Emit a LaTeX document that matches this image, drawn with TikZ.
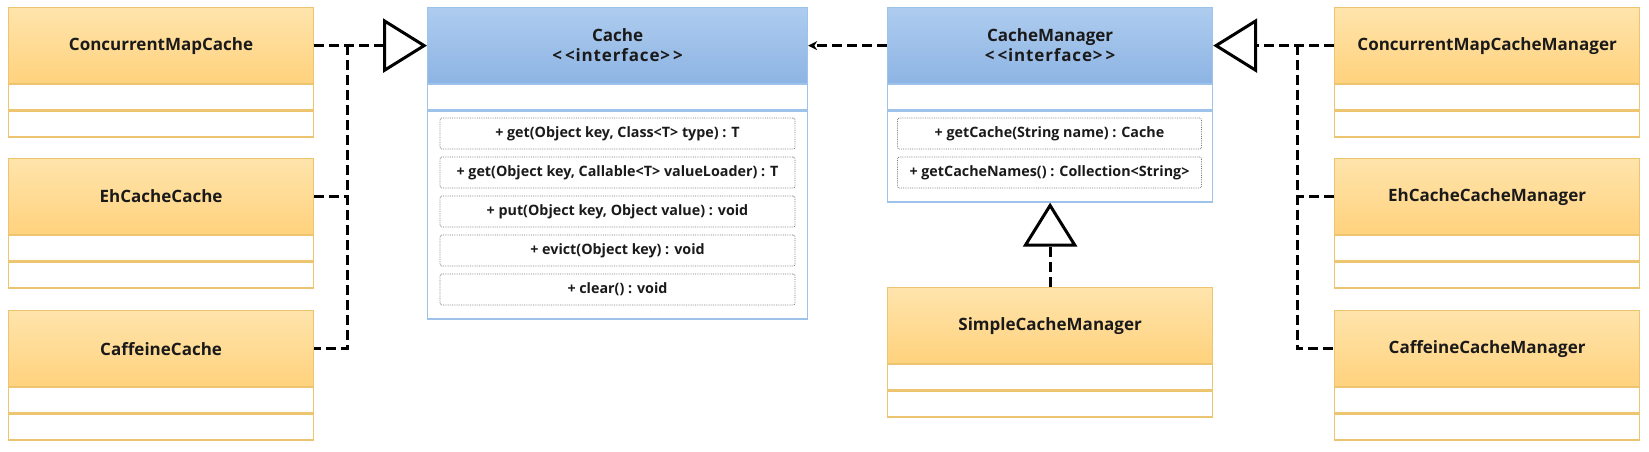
\documentclass[tikz,border=0pt]{standalone}
\usepackage{fontspec}
\setmainfont{Open Sans}
\usetikzlibrary{arrows.meta}
\definecolor{ortop}{HTML}{FFE4AC}
\definecolor{orbot}{HTML}{FFD27D}
\definecolor{orline}{HTML}{EDC46F}
\definecolor{bltop}{HTML}{AECCEF}
\definecolor{blbot}{HTML}{8DB4E3}
\definecolor{blline}{HTML}{9DC3EA}
\definecolor{txt}{HTML}{1A1A1A}
\definecolor{methline}{HTML}{7A7A7A}
\newcommand\oclass[4]{%
  \node[ohead] (#1) at (#2,#3) {#4};
  \node[orow] (#1-a) at (#1.south) {};
  \node[orow, minimum height=26pt] (#1-o) at (#1-a.south) {};}
\newcommand\ifaceline{{\addfontfeatures{LetterSpace=5}<\kern3pt<interface>\kern3pt>}}
\begin{document}
\begin{tikzpicture}[x=1pt,y=-1pt,
  every node/.style={text=txt},
  ohead/.style={draw=orline, line width=1.2pt, top color=ortop, bottom color=orbot, minimum width=305pt, minimum height=76pt, inner sep=0pt, font=\fontsize{17}{20}\selectfont\bfseries, anchor=north west},
  orow/.style={draw=orline, line width=1.2pt, fill=white, minimum width=305pt, minimum height=25pt, inner sep=0pt, anchor=north},
  bhead/.style={draw=blline, line width=1.2pt, top color=bltop, bottom color=blbot, minimum height=76pt, inner sep=0pt, align=center, font=\fontsize{17}{20}\selectfont\bfseries, anchor=north west},
  brow/.style={draw=blline, line width=1.2pt, fill=white, minimum height=25pt, inner sep=0pt, anchor=north},
  meth/.style={draw=methline, densely dotted, line width=0.8pt, rounded corners=2pt, minimum height=31pt, inner sep=0pt, font=\fontsize{14.3}{16}\selectfont\bfseries},
  dep/.style={line width=3pt, dash pattern=on 10pt off 5pt, draw=black},
  realize/.style={dep, -{Triangle[open, length=44pt, width=54pt, line width=3pt]}},
  use/.style={dep, -{Stealth[length=9pt, width=9pt]}}
]
\fill[white] (0,0) rectangle (1649,451);
\useasboundingbox (0,0) rectangle (1649,451);

% left implementations
\oclass{cmc}{8}{7}{ConcurrentMapCache}
\oclass{ehc}{8}{158}{EhCacheCache}
\oclass{caf}{8}{310}{CaffeineCache}

% Cache interface
\node[bhead, minimum width=380pt] (cache) at (427,7) {Cache\\\ifaceline};
\node[brow, minimum width=380pt] (cache-a) at (cache.south) {};
\node[brow, minimum width=380pt, minimum height=208pt] (cache-o) at (cache-a.south) {};
\node[meth, minimum width=355pt] (c1) at (617.5,133.5) {+ get(Object key, Class<T> type) : T};
\node[meth, minimum width=355pt] (c2) at (617.5,172.5) {+ get(Object key, Callable<T> valueLoader) : T};
\node[meth, minimum width=355pt] (c3) at (617.5,211.5) {+ put(Object key, Object value) : void};
\node[meth, minimum width=355pt] (c4) at (617.5,250.5) {+ evict(Object key) : void};
\node[meth, minimum width=355pt] (c5) at (617.5,289.5) {+ clear() : void};

% CacheManager interface
\node[bhead, minimum width=325pt] (cm) at (887,7) {CacheManager\\\ifaceline};
\node[brow, minimum width=325pt] (cm-a) at (cm.south) {};
\node[brow, minimum width=325pt, minimum height=91pt] (cm-o) at (cm-a.south) {};
\node[meth, minimum width=304pt] (g1) at (1049.5,133.5) {+ getCache(String name) : Cache};
\node[meth, minimum width=304pt] (g2) at (1049.5,172.5) {+ getCacheNames() : Collection<String>};

% SimpleCacheManager
\node[ohead, minimum width=325pt] (scm) at (887,287) {SimpleCacheManager};
\node[orow, minimum width=325pt] (scm-a) at (scm.south) {};
\node[orow, minimum width=325pt, minimum height=26pt] (scm-o) at (scm-a.south) {};

% right implementations
\oclass{cmcm}{1334}{7}{ConcurrentMapCacheManager}
\oclass{ehm}{1334}{158}{EhCacheCacheManager}
\oclass{cfm}{1334}{310}{CaffeineCacheManager}

% connectors left
\coordinate (jl) at (347,45);
\draw[realize] (cmc.east) -- (cache.west);
\draw[dep] (jl) |- (caf.east);
\draw[dep] (ehc.east) -- (ehc.east -| jl);

% CacheManager uses Cache
\draw[use] (cm.west) -- (cache.east);

% connectors right
\coordinate (jr) at (1297,45);
\draw[realize] (cmcm.west) -- (cm.east);
\draw[dep] (jr) |- (cfm.west);
\draw[dep] (ehm.west) -- (ehm.west -| jr);

% SimpleCacheManager
\draw[realize] (scm.north) -- (cm-o.south);
\end{tikzpicture}
\end{document}
